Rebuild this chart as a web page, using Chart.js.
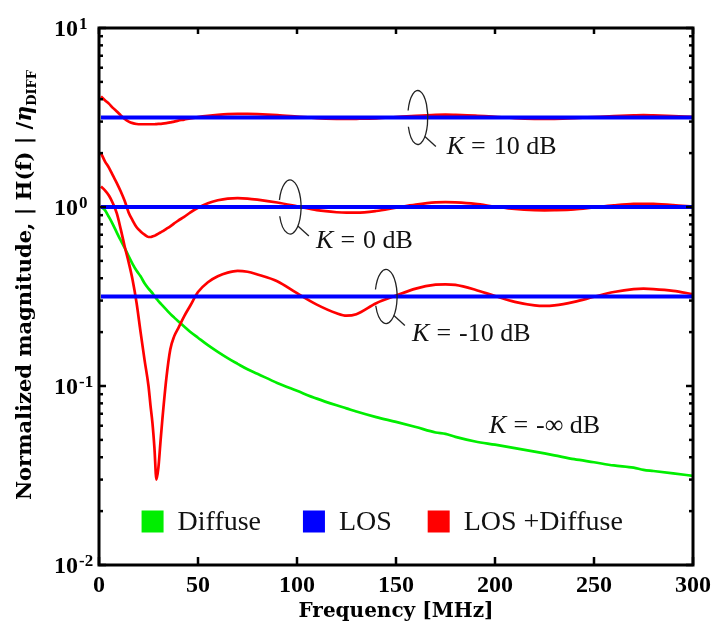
<!DOCTYPE html>
<html><head><meta charset="utf-8">
<script src="https://cdn.jsdelivr.net/npm/chart.js@4/dist/chart.umd.min.js"></script>
<style>html,body{margin:0;padding:0;background:#fff}canvas{display:block}</style>
</head><body>
<canvas id="c" width="717" height="627"></canvas>
<script>
// ---- data ----
const freq = [1,3,5,7,9,11,13,15,17,19,21,23,25,26,27,28,29,30,31,32,34,36,38,40,43,46,50,55,60,65,70,75,80,90,100,110,120,125,130,140,150,160,170,175,180,190,200,210,220,225,230,240,250,260,270,275,280,290,300];
const diffuse = [1.0,0.96,0.88,0.80,0.72,0.65,0.59,0.53,0.48,0.44,0.41,0.375,0.35,0.34,0.33,0.318,0.308,0.298,0.29,0.282,0.267,0.253,0.241,0.23,0.215,0.201,0.186,0.169,0.155,0.143,0.133,0.124,0.117,0.104,0.094,0.085,0.078,0.075,0.072,0.067,0.063,0.059,0.055,0.054,0.052,0.049,0.047,0.045,0.043,0.042,0.041,0.039,0.0375,0.036,0.035,0.034,0.0335,0.0325,0.0315];
const losDiffK10 = [4.15,3.95,3.78,3.58,3.42,3.25,3.10,3.00,2.94,2.91,2.90,2.90,2.90,2.90,2.90,2.90,2.905,2.91,2.915,2.92,2.94,2.97,3.00,3.04,3.08,3.13,3.18,3.23,3.27,3.30,3.31,3.31,3.30,3.26,3.20,3.14,3.11,3.105,3.11,3.13,3.18,3.23,3.27,3.28,3.27,3.24,3.19,3.14,3.11,3.105,3.11,3.14,3.18,3.22,3.25,3.26,3.25,3.22,3.19];
const losDiffK0 = [2.0,1.8,1.66,1.50,1.36,1.22,1.08,0.93,0.84,0.77,0.73,0.70,0.68,0.68,0.685,0.69,0.70,0.71,0.72,0.73,0.755,0.78,0.81,0.84,0.88,0.93,0.99,1.05,1.09,1.115,1.12,1.115,1.10,1.06,1.01,0.96,0.935,0.93,0.93,0.95,0.99,1.03,1.06,1.065,1.06,1.04,1.005,0.975,0.96,0.958,0.96,0.97,0.995,1.02,1.04,1.042,1.04,1.025,1.005];
const losDiffKm10 = [1.30,1.24,1.16,1.05,0.92,0.75,0.60,0.49,0.39,0.29,0.20,0.14,0.10,0.078,0.062,0.045,0.030,0.035,0.048,0.065,0.11,0.16,0.19,0.21,0.245,0.28,0.335,0.38,0.41,0.43,0.44,0.435,0.42,0.385,0.33,0.285,0.255,0.247,0.252,0.29,0.32,0.35,0.368,0.37,0.367,0.345,0.318,0.295,0.282,0.28,0.282,0.295,0.315,0.335,0.348,0.35,0.348,0.34,0.326];
const losLevels = [3.162, 1.0, 0.3162];
const xTicks = [0,50,100,150,200,250,300];
const yDecades = [1,0,-1,-2];
const legendLabels = ['Diffuse','LOS','LOS +Diffuse'];
const kLabels = ['10 dB','0 dB','-10 dB','-\u221E dB'];

// ---- styling ----
const GREEN = '#00ee00', BLUE = '#0000ff', RED = '#ff0000';
const pts = vals => freq.map((f,i)=>({x:f, y:vals[i]}));
const flat = v => [{x:freq[0], y:v}, {x:freq[freq.length-1], y:v}];

const datasets = [];
losLevels.forEach(v => datasets.push({data: flat(v), borderColor: BLUE, borderWidth: 4, order: 1}));
[losDiffK10, losDiffK0, losDiffKm10].forEach(s => datasets.push({data: pts(s), borderColor: RED, borderWidth: 2.7, order: 2, cubicInterpolationMode: 'monotone'}));
datasets.push({data: pts(diffuse), borderColor: GREEN, borderWidth: 2.7, order: 3, cubicInterpolationMode: 'monotone'});

// annotation loops: [freq at center, value at center, label index]
const loops = [
  {f:161, v:losLevels[0], rx:10, ry:27, label:0, dx:29, dy:30},
  {f:96.5, v:losLevels[1], rx:11, ry:27, label:1, dx:26, dy:34},
  {f:145, v:losLevels[2], rx:11, ry:27, label:2, dx:26, dy:38}
];

const decor = {
  id: 'decor',
  afterDraw(chart) {
    const {ctx, chartArea: a, scales: {x, y}} = chart;
    const line = (x1,y1,x2,y2) => { ctx.beginPath(); ctx.moveTo(x1,y1); ctx.lineTo(x2,y2); ctx.stroke(); };
    ctx.save();
    // frame
    ctx.strokeStyle = '#000'; ctx.lineWidth = 3;
    ctx.strokeRect(a.left, a.top, a.right - a.left, a.bottom - a.top);
    // x ticks (inward)
    ctx.lineWidth = 2.5;
    xTicks.forEach(t => { const px = x.getPixelForValue(t); line(px, a.bottom, px, a.bottom - 8); line(px, a.top, px, a.top + 6); });
    // y ticks (inward, both sides)
    for (let k = -2; k <= 1; k++) {
      for (let m = 1; m <= 9; m++) {
        if (k === 1 && m > 1) break;
        const py = y.getPixelForValue(m * Math.pow(10, k));
        const len = m === 1 ? 7 : 4;
        line(a.left, py, a.left + len, py);
        line(a.right, py, a.right - len, py);
      }
    }
    // y tick labels 10^k
    ctx.fillStyle = '#000'; ctx.textBaseline = 'alphabetic'; ctx.textAlign = 'left';
    yDecades.forEach(k => {
      const py = y.getPixelForValue(Math.pow(10, k));
      ctx.font = 'bold 24px "Liberation Serif"';
      ctx.fillText('10', 54, py + 8);
      const w = ctx.measureText('10').width;
      ctx.font = 'bold 17px "Liberation Serif"';
      ctx.fillText(k < 0 ? '-' + (-k) : String(k), 54 + w + 1, py + 1);
    });
    // y axis title with subscript
    ctx.save();
    ctx.translate(24, 285);
    ctx.rotate(-Math.PI / 2);
    const parts = [
      {t: 'Normalized magnitude, | H(f) | /', f: 'bold 21px "DejaVu Serif"', dy: 0},
      {t: '\u03B7', f: 'italic bold 22px "DejaVu Serif"', dy: 0},
      {t: 'DIFF', f: 'bold 13px "DejaVu Serif"', dy: 5}
    ];
    let total = 0;
    parts.forEach(p => { ctx.font = p.f; p.w = ctx.measureText(p.t).width; total += p.w; });
    let cx = -total / 2;
    ctx.textBaseline = 'alphabetic';
    parts.forEach(p => { ctx.font = p.f; ctx.fillText(p.t, cx, 7 + p.dy); cx += p.w; });
    ctx.restore();

    // loops + K labels
    const drawK = (txt, lx, cy) => {
      ctx.textBaseline = 'middle'; ctx.fillStyle = '#111';
      ctx.font = 'italic 26px "Liberation Serif"';
      ctx.fillText('K', lx, cy);
      let p = lx + ctx.measureText('K').width + 7;
      ctx.font = '26px "Liberation Serif"';
      ctx.fillText('=', p, cy);
      p += ctx.measureText('=').width + 8;
      ctx.fillText(txt, p, cy);
    };
    ctx.strokeStyle = '#222'; ctx.lineWidth = 1.3;
    loops.forEach(L => {
      const cx0 = x.getPixelForValue(L.f), cy0 = y.getPixelForValue(L.v);
      ctx.beginPath();
      ctx.ellipse(cx0, cy0, L.rx, L.ry, 0, -165 * Math.PI / 180, 160 * Math.PI / 180);
      ctx.stroke();
      const ang = 45 * Math.PI / 180;
      const sx = cx0 + L.rx * Math.cos(ang), sy = cy0 + L.ry * Math.sin(ang);
      line(sx, sy, sx + 11, sy + 10);
      drawK(kLabels[L.label], cx0 + L.dx, cy0 + L.dy);
    });
    drawK(kLabels[3], x.getPixelForValue(197), y.getPixelForValue(0.06));

    // legend inside plot
    const legColors = [GREEN, BLUE, RED];
    const legX = [x.getPixelForValue(21.5), x.getPixelForValue(103), x.getPixelForValue(166)];
    const legY = y.getPixelForValue(0.0175);
    ctx.font = '28px "Liberation Serif"'; ctx.textBaseline = 'middle';
    legendLabels.forEach((lab, i) => {
      ctx.fillStyle = legColors[i];
      ctx.fillRect(legX[i], legY - 11, 22, 22);
      ctx.fillStyle = '#111';
      ctx.fillText(lab, legX[i] + 36, legY + 1);
    });
    ctx.restore();
  }
};

new Chart(document.getElementById('c'), {
  type: 'line',
  data: {datasets},
  options: {
    responsive: false, animation: false,
    layout: {padding: {top: 28, right: 24, left: 0, bottom: 0}},
    plugins: {legend: {display: false}, tooltip: {enabled: false}},
    elements: {point: {radius: 0}},
    scales: {
      x: {
        type: 'linear', min: 0, max: 300,
        grid: {display: false, drawTicks: false}, border: {display: false},
        ticks: {stepSize: 50, color: '#000', padding: 6, maxRotation: 0,
                font: {family: 'Liberation Serif', weight: 'bold', size: 24}},
        title: {display: true, text: 'Frequency [MHz]', color: '#000',
                font: {family: 'DejaVu Serif', weight: 'bold', size: 20}, padding: {top: 0, bottom: 3}},
        afterFit: s => { s.height = 62; }
      },
      y: {
        type: 'logarithmic', min: 0.01, max: 10,
        grid: {display: false, drawTicks: false}, border: {display: false},
        ticks: {display: false},
        afterFit: s => { s.width = 99; }
      }
    }
  },
  plugins: [decor]
});
</script>
</body></html>
